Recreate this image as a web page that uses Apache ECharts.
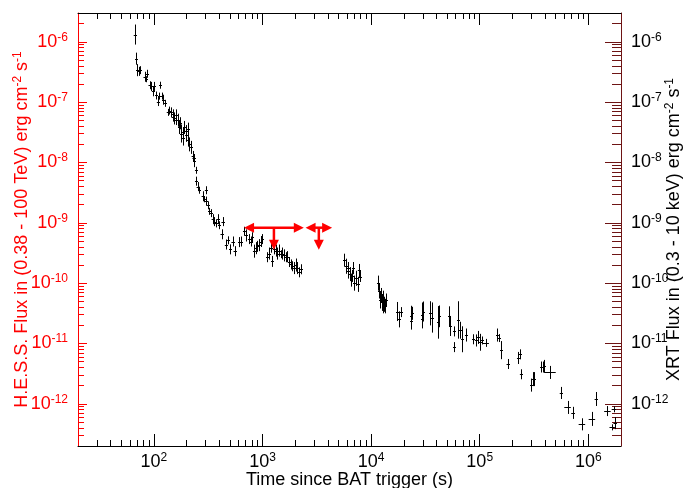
<!DOCTYPE html>
<html>
<head>
<meta charset="utf-8">
<script src="https://cdn.jsdelivr.net/npm/echarts@6/dist/echarts.min.js"></script>
<style>
  html, body { margin: 0; padding: 0; background: #fff; }
  #chart { width: 683px; height: 488px; }
</style>
</head>
<body>
<div id="chart"></div>
<script>
// XRT light curve.
// each row: log10 time (s), log10 flux, flux error (dex), time error (dex)
const orbit1 = [
  [1.822, -5.88, 0.166, 0.008], [1.835, -6.28, 0.10, 0.008], [1.847, -6.47, 0.10, 0.008],
  [1.863, -6.49, 0.075, 0.008], [1.872, -6.47, 0.066, 0.008], [1.914, -6.58, 0.083, 0.01],
  [1.929, -6.62, 0.05, 0.01], [1.939, -6.53, 0.066, 0.01], [1.960, -6.72, 0.066, 0.01],
  [1.975, -6.74, 0.075, 0.01], [1.991, -6.82, 0.083, 0.01], [2.005, -6.74, 0.075, 0.01],
  [2.021, -6.89, 0.066, 0.01], [2.037, -6.99, 0.075, 0.01], [2.051, -6.90, 0.058, 0.01],
  [2.060, -6.72, 0.058, 0.01], [2.071, -6.90, 0.058, 0.01], [2.088, -6.96, 0.083, 0.01],
  [2.106, -7.02, 0.058, 0.01], [2.128, -7.17, 0.058, 0.01], [2.143, -7.14, 0.066, 0.01],
  [2.159, -7.17, 0.083, 0.01], [2.174, -7.24, 0.083, 0.01], [2.180, -7.20, 0.08, 0.01],
  [2.189, -7.27, 0.10, 0.01], [2.200, -7.30, 0.08, 0.01], [2.204, -7.22, 0.10, 0.01],
  [2.220, -7.30, 0.108, 0.01], [2.235, -7.42, 0.108, 0.01], [2.240, -7.35, 0.10, 0.01],
  [2.250, -7.52, 0.15, 0.01], [2.266, -7.50, 0.083, 0.01], [2.270, -7.60, 0.12, 0.01],
  [2.280, -7.42, 0.108, 0.01], [2.296, -7.55, 0.108, 0.01], [2.300, -7.48, 0.10, 0.01],
  [2.312, -7.44, 0.10, 0.01], [2.312, -7.63, 0.108, 0.01], [2.326, -7.70, 0.116, 0.01],
  [2.342, -7.75, 0.108, 0.01], [2.357, -7.90, 0.091, 0.01], [2.365, -7.93, 0.07, 0.01],
  [2.372, -7.97, 0.108, 0.01], [2.388, -8.13, 0.058, 0.01], [2.388, -8.31, 0.075, 0.01],
  [2.403, -8.40, 0.075, 0.01], [2.418, -8.46, 0.058, 0.01], [2.449, -8.56, 0.083, 0.01],
  [2.464, -8.61, 0.05, 0.01], [2.479, -8.46, 0.066, 0.01], [2.479, -8.64, 0.075, 0.01],
  [2.495, -8.71, 0.066, 0.01], [2.510, -8.81, 0.058, 0.01], [2.525, -8.84, 0.066, 0.01],
  [2.541, -8.94, 0.083, 0.01], [2.555, -8.98, 0.075, 0.01], [2.571, -9.01, 0.066, 0.01],
  [2.587, -8.94, 0.083, 0.01], [2.601, -9.04, 0.066, 0.01], [2.623, -9.19, 0.083, 0.01],
  [2.632, -8.98, 0.075, 0.01], [2.663, -9.36, 0.083, 0.01], [2.684, -9.29, 0.066, 0.01],
  [2.702, -9.44, 0.083, 0.01], [2.724, -9.31, 0.083, 0.01], [2.748, -9.47, 0.083, 0.015],
  [2.785, -9.32, 0.083, 0.01], [2.800, -9.31, 0.083, 0.01], [2.830, -9.14, 0.075, 0.01],
  [2.846, -9.21, 0.10, 0.01], [2.876, -9.27, 0.083, 0.01], [2.892, -9.31, 0.083, 0.01],
  [2.907, -9.24, 0.083, 0.01], [2.922, -9.47, 0.108, 0.01], [2.938, -9.42, 0.10, 0.01],
  [2.953, -9.39, 0.091, 0.01], [2.968, -9.37, 0.10, 0.01], [2.983, -9.31, 0.091, 0.01],
  [2.999, -9.27, 0.083, 0.01], [3.045, -9.57, 0.083, 0.01], [3.060, -9.51, 0.10, 0.01],
  [3.082, -9.42, 0.075, 0.01], [3.091, -9.64, 0.091, 0.01], [3.105, -9.44, 0.083, 0.01],
  [3.121, -9.46, 0.10, 0.01], [3.136, -9.51, 0.10, 0.01], [3.151, -9.46, 0.10, 0.01],
  [3.167, -9.52, 0.066, 0.01], [3.182, -9.51, 0.10, 0.01], [3.197, -9.54, 0.10, 0.01],
  [3.213, -9.57, 0.083, 0.01], [3.228, -9.56, 0.091, 0.01], [3.243, -9.65, 0.083, 0.01],
  [3.258, -9.69, 0.083, 0.01], [3.274, -9.72, 0.083, 0.01], [3.289, -9.75, 0.10, 0.01],
  [3.304, -9.70, 0.108, 0.01], [3.320, -9.75, 0.10, 0.01], [3.335, -9.82, 0.083, 0.01],
  [3.350, -9.77, 0.083, 0.01]
];
const orbit2 = [
  [3.753, -9.62, 0.108, 0.006], [3.769, -9.72, 0.125, 0.006], [3.784, -9.80, 0.125, 0.006],
  [3.790, -9.75, 0.10, 0.006], [3.802, -9.85, 0.116, 0.006], [3.815, -9.95, 0.108, 0.006],
  [3.820, -9.88, 0.10, 0.006], [3.833, -9.75, 0.10, 0.006], [3.845, -10.00, 0.125, 0.006],
  [3.863, -9.92, 0.125, 0.006], [3.875, -10.02, 0.125, 0.006], [3.884, -9.79, 0.108, 0.006],
  [3.894, -9.89, 0.091, 0.006]
];
const orbit3 = [
  [4.059, -10.00, 0.125, 0.005], [4.074, -10.13, 0.125, 0.005], [4.083, -10.28, 0.14, 0.005],
  [4.090, -10.20, 0.12, 0.005], [4.099, -10.32, 0.14, 0.005], [4.105, -10.40, 0.10, 0.005],
  [4.114, -10.25, 0.125, 0.005], [4.123, -10.35, 0.125, 0.005], [4.130, -10.38, 0.12, 0.005],
  [4.136, -10.28, 0.108, 0.005]
];
const lateTime = [
  [4.242, -10.47, 0.158, 0.006], [4.258, -10.60, 0.133, 0.006], [4.273, -10.48, 0.083, 0.015],
  [4.365, -10.55, 0.175, 0.006], [4.370, -10.62, 0.15, 0.006], [4.379, -10.50, 0.108, 0.006],
  [4.466, -10.52, 0.20, 0.006], [4.470, -10.60, 0.15, 0.006], [4.480, -10.47, 0.166, 0.006],
  [4.542, -10.50, 0.20, 0.006], [4.557, -10.57, 0.25, 0.006], [4.618, -10.65, 0.27, 0.006],
  [4.622, -10.55, 0.18, 0.006], [4.719, -10.55, 0.166, 0.006], [4.731, -10.71, 0.166, 0.006],
  [4.762, -10.80, 0.083, 0.008], [4.762, -11.06, 0.083, 0.008], [4.801, -10.61, 0.31, 0.006],
  [4.817, -10.78, 0.14, 0.006], [4.841, -10.93, 0.215, 0.006], [4.872, -10.86, 0.108, 0.008],
  [4.939, -10.93, 0.083, 0.008], [4.963, -10.95, 0.10, 0.008], [4.984, -10.90, 0.108, 0.008],
  [5.000, -10.98, 0.14, 0.008], [5.020, -10.95, 0.066, 0.008], [5.055, -10.99, 0.066, 0.03],
  [5.159, -10.86, 0.108, 0.008], [5.177, -10.91, 0.066, 0.008], [5.199, -11.11, 0.15, 0.008],
  [5.259, -11.34, 0.083, 0.012], [5.351, -11.24, 0.10, 0.008], [5.367, -11.18, 0.083, 0.008],
  [5.382, -11.51, 0.083, 0.012], [5.474, -11.69, 0.108, 0.008], [5.489, -11.59, 0.116, 0.008],
  [5.504, -11.59, 0.116, 0.008], [5.565, -11.39, 0.091, 0.008], [5.580, -11.39, 0.091, 0.008],
  [5.596, -11.38, 0.108, 0.008], [5.650, -11.48, 0.108, 0.05], [5.749, -11.82, 0.10, 0.012],
  [5.809, -12.06, 0.108, 0.03], [5.855, -12.15, 0.10, 0.012], [5.941, -12.34, 0.10, 0.03],
  [6.033, -12.25, 0.116, 0.03], [6.070, -11.92, 0.116, 0.012], [6.176, -12.12, 0.083, 0.03],
  [6.220, -12.39, 0.05, 0.025], [6.235, -12.09, 0.05, 0.02], [6.244, -12.32, 0.10, 0.012]
];

// H.E.S.S. upper limits
const hessStart = [676, 2490];          // s
const hessEnd = [2400, 4375];           // s
const hessUpperLimit = [8.3e-10, 8.3e-10];

const xMajor = [1e2, 1e3, 1e4, 1e5, 1e6];
const yMajor = [1e-12, 1e-11, 1e-10, 1e-9, 1e-8, 1e-7, 1e-6];
const X_MIN = 20, X_MAX = 2e6;
const Y_MIN = 2e-13, Y_MAX = 3e-6;

const FONT = 'Liberation Sans, Arial, sans-serif';
const RED = '#ff0000';
const MAROON = '#6e1414';

function minorTicks(lo, hi) {
  const out = [];
  for (let e = Math.floor(Math.log10(lo)); e <= Math.ceil(Math.log10(hi)); e++) {
    for (let k = 2; k <= 9; k++) {
      const v = k * Math.pow(10, e);
      if (v > lo * 1.0001 && v < hi * 0.9999) out.push(v);
    }
  }
  return out;
}
const xMinor = minorTicks(X_MIN, X_MAX);
const yMinor = minorTicks(Y_MIN, Y_MAX);

const xrtData = orbit1.concat(orbit2, orbit3, lateTime).map(function (r) {
  return [
    Math.pow(10, r[0]), Math.pow(10, r[1]),
    Math.pow(10, r[1] - r[2]), Math.pow(10, r[1] + r[2]),
    Math.pow(10, r[0] - r[3]), Math.pow(10, r[0] + r[3])
  ];
});
const hessData = hessStart.map(function (t, i) {
  return [t, hessEnd[i], hessUpperLimit[i]];
});

function powLabel(v) {
  return '{b|10}{s|' + Math.round(Math.log10(v)) + '}';
}
function supRich(color) {
  return {
    b: { fontSize: 18, color: color, fontFamily: FONT },
    s: { fontSize: 12, color: color, fontFamily: FONT, padding: [0, 0, 9, 0] }
  };
}
function titleRich(color) {
  return {
    t: { fontSize: 18, color: color, fontFamily: FONT },
    s: { fontSize: 12, color: color, fontFamily: FONT, padding: [0, 0, 9, 0] }
  };
}

function tickAxis(position, min, max, values, len, color, extra) {
  return Object.assign({
    type: 'log',
    position: position,
    min: min,
    max: max,
    axisLine: { show: false, onZero: false },
    axisTick: { show: true, inside: true, length: len, customValues: values, lineStyle: { color: color, width: 1 } },
    axisLabel: { show: false },
    splitLine: { show: false }
  }, extra || {});
}

const chart = echarts.init(document.getElementById('chart'), null, { renderer: 'canvas' });

const option = {
  animation: false,
  backgroundColor: '#fff',
  grid: { left: 78, right: 62, top: 13, bottom: 42, containLabel: false, outerBoundsMode: 'none' },
  xAxis: [
    tickAxis('bottom', X_MIN, X_MAX, xMajor, 12, '#000', {
      axisLine: { show: true, onZero: false, lineStyle: { color: '#000', width: 1 } },
      axisLabel: { show: true, customValues: xMajor, formatter: powLabel, margin: 6, rich: supRich('#000') },
      name: 'Time since BAT trigger (s)',
      nameLocation: 'middle',
      nameGap: 25,
      nameMoveOverlap: false,
      nameTextStyle: { fontSize: 18, color: '#000', fontFamily: FONT }
    }),
    tickAxis('bottom', X_MIN, X_MAX, xMinor, 6, '#000'),
    tickAxis('top', X_MIN, X_MAX, xMajor, 12, '#000', {
      axisLine: { show: true, onZero: false, lineStyle: { color: '#000', width: 1 } }
    }),
    tickAxis('top', X_MIN, X_MAX, xMinor, 6, '#000')
  ],
  yAxis: [
    tickAxis('left', Y_MIN, Y_MAX, yMajor, 9, RED, {
      axisLine: { show: true, onZero: false, lineStyle: { color: RED, width: 1 } },
      axisLabel: { show: true, customValues: yMajor, formatter: powLabel, margin: 10, rich: supRich(RED) },
      name: '{t|H.E.S.S. Flux in (0.38 - 100 TeV) erg cm}{s|-2}{t| s}{s|-1}',
      nameLocation: 'middle',
      nameRotate: 90,
      nameGap: 45,
      nameMoveOverlap: false,
      nameTextStyle: { rich: titleRich(RED) }
    }),
    tickAxis('left', Y_MIN, Y_MAX, yMinor, 6, RED),
    tickAxis('right', Y_MIN, Y_MAX, yMajor, 16, MAROON, {
      axisLine: { show: true, onZero: false, lineStyle: { color: MAROON, width: 1 } },
      axisLabel: { show: true, customValues: yMajor, formatter: powLabel, margin: 10, rich: supRich('#000') },
      name: '{t|XRT Flux in (0.3 - 10 keV) erg cm}{s|-2}{t| s}{s|-1}',
      nameLocation: 'middle',
      nameRotate: 90,
      nameGap: 43,
      nameMoveOverlap: false,
      nameTextStyle: { rich: titleRich('#000') }
    }),
    tickAxis('right', Y_MIN, Y_MAX, yMinor, 9, MAROON)
  ],
  series: [
    {
      name: 'XRT',
      type: 'custom',
      xAxisIndex: 0,
      yAxisIndex: 0,
      silent: true,
      clip: true,
      encode: { x: 0, y: 1 },
      data: xrtData,
      renderItem: function (params, api) {
        const c = api.coord([api.value(0), api.value(1)]);
        const lo = api.coord([api.value(0), api.value(2)]);
        const hi = api.coord([api.value(0), api.value(3)]);
        const l = api.coord([api.value(4), api.value(1)]);
        const r = api.coord([api.value(5), api.value(1)]);
        const x = Math.round(c[0]) + 0.5;
        const y = Math.round(c[1]) + 0.5;
        const st = { stroke: '#000', lineWidth: 1 };
        return {
          type: 'group',
          children: [
            { type: 'line', shape: { x1: x, y1: lo[1], x2: x, y2: hi[1] }, style: st },
            { type: 'line', shape: { x1: Math.min(l[0], x - 1.5), y1: y, x2: Math.max(r[0], x + 1.5), y2: y }, style: st }
          ]
        };
      }
    },
    {
      name: 'H.E.S.S.',
      type: 'custom',
      xAxisIndex: 0,
      yAxisIndex: 0,
      silent: true,
      clip: false,
      encode: { x: [0, 1], y: 2 },
      data: hessData,
      renderItem: function (params, api) {
        const a = api.coord([api.value(0), api.value(2)]);
        const b = api.coord([api.value(1), api.value(2)]);
        const m = api.coord([Math.sqrt(api.value(0) * api.value(1)), api.value(2)]);
        const y = a[1];
        const head = 10, half = 5, drop = 22;
        const fill = { fill: RED };
        const line = { stroke: RED, lineWidth: 2.5 };
        return {
          type: 'group',
          children: [
            { type: 'line', shape: { x1: a[0] + head - 1, y1: y, x2: b[0] - head + 1, y2: y }, style: line },
            { type: 'polygon', shape: { points: [[a[0], y], [a[0] + head, y - half], [a[0] + head, y + half]] }, style: fill },
            { type: 'polygon', shape: { points: [[b[0], y], [b[0] - head, y - half], [b[0] - head, y + half]] }, style: fill },
            { type: 'line', shape: { x1: m[0], y1: y, x2: m[0], y2: y + drop - head + 1 }, style: line },
            { type: 'polygon', shape: { points: [[m[0], y + drop], [m[0] - half, y + drop - head], [m[0] + half, y + drop - head]] }, style: fill }
          ]
        };
      }
    }
  ]
};

chart.setOption(option);
</script>
</body>
</html>
